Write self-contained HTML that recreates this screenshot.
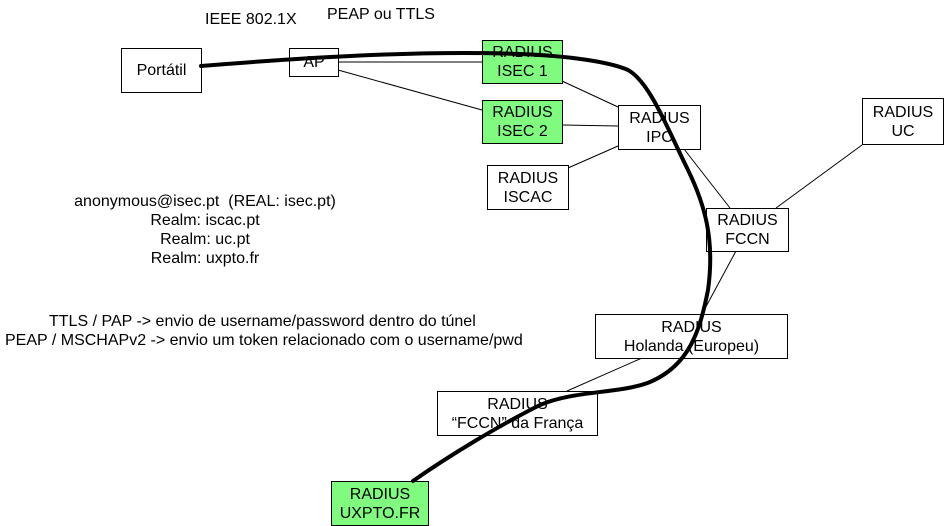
<!DOCTYPE html>
<html><head><meta charset="utf-8"><style>
body{margin:0;width:944px;height:526px;background:#fff;overflow:hidden;position:relative;font-family:"Liberation Sans",Arial,sans-serif;font-size:16px;color:#000}
.b{position:absolute;box-sizing:border-box;border:1px solid #000;background:#fff;display:flex;align-items:center;justify-content:center;text-align:center;line-height:19px}
.g{background:#80fb80}
.t{position:absolute;white-space:pre;line-height:19px}
.c{position:absolute;left:5px;width:400px;text-align:center;white-space:pre;line-height:19px}
svg{position:absolute;left:0;top:0}
</style></head><body>
<svg width="944" height="526" style="z-index:0">
<g stroke="#000" stroke-width="1" fill="none">
<line x1="338" y1="62" x2="482" y2="62"/>
<line x1="338" y1="70" x2="482" y2="110"/>
<line x1="562" y1="81" x2="618" y2="107"/>
<line x1="562" y1="125" x2="618" y2="126"/>
<line x1="568" y1="168" x2="618" y2="146"/>
<line x1="684" y1="149" x2="730" y2="208"/>
<line x1="862" y1="145" x2="776" y2="208"/>
<line x1="736" y1="251" x2="702" y2="314"/>
<line x1="642" y1="358" x2="567" y2="391"/>
</g>
</svg>
<div class="b" style="left:121px;top:48px;width:81px;height:45px">Portátil</div>
<div class="b" style="left:289px;top:48px;width:50px;height:29px">AP</div>
<div class="b g" style="left:482px;top:40px;width:81px;height:44px">RADIUS<br>ISEC 1</div>
<div class="b g" style="left:482px;top:100px;width:81px;height:44px">RADIUS<br>ISEC 2</div>
<div class="b" style="left:618px;top:105px;width:83px;height:45px">RADIUS<br>IPC</div>
<div class="b" style="left:487px;top:165px;width:82px;height:45px">RADIUS<br>ISCAC</div>
<div class="b" style="left:862px;top:98px;width:82px;height:47px">RADIUS<br>UC</div>
<div class="b" style="left:706px;top:208px;width:83px;height:44px">RADIUS<br>FCCN</div>
<div class="b" style="left:595px;top:314px;width:193px;height:45px">RADIUS<br>Holanda (Europeu)</div>
<div class="b" style="left:437px;top:391px;width:161px;height:45px">RADIUS<br>“FCCN” da França</div>
<div class="b g" style="left:331px;top:481px;width:98px;height:45px">RADIUS<br>UXPTO.FR</div>
<svg width="944" height="526" style="z-index:2">
<path d="M201,66 C300,58 420,50 520,54 C570,56 610,62 628,70 C650,82 668,130 688,170 C705,205 715,240 708,290 C700,330 690,365 650,382 C620,394 575,390 540,405 C500,425 450,455 413,481" stroke="#000" stroke-width="4" fill="none" stroke-linecap="round"/>
</svg>
<div class="t" style="left:205px;top:10px">IEEE 802.1X</div>
<div class="t" style="left:327px;top:5px">PEAP ou TTLS</div>
<div class="c" style="top:192px">anonymous@isec.pt  (REAL: isec.pt)</div>
<div class="c" style="top:211px">Realm: iscac.pt</div>
<div class="c" style="top:230px">Realm: uc.pt</div>
<div class="c" style="top:249px">Realm: uxpto.fr</div>
<div class="t" style="left:49px;top:312px">TTLS / PAP -&gt; envio de username/password dentro do túnel</div>
<div class="t" style="left:5px;top:331px">PEAP / MSCHAPv2 -&gt; envio um token relacionado com o username/pwd</div>
</body></html>
